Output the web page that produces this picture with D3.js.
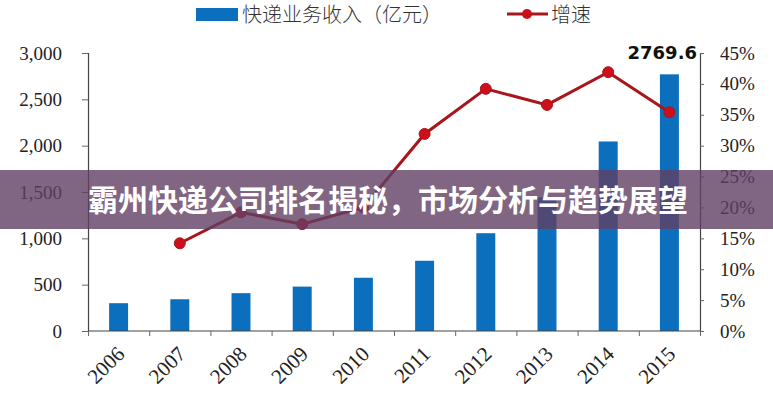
<!DOCTYPE html>
<html><head><meta charset="utf-8">
<script src="https://cdn.jsdelivr.net/npm/d3@7/dist/d3.min.js"></script>
<style>body{margin:0;background:#fff}svg{display:block}.serif{font-family:"Liberation Serif","Times New Roman","DejaVu Serif",serif}</style>
</head><body><svg id="c" width="773" height="400"></svg>
<script>
const years = ["2006","2007","2008","2009","2010","2011","2012","2013","2014","2015"];
const revenue = [300, 342.6, 408.4, 479, 574.6, 758, 1055.3, 1441.7, 2045.4, 2769.6];
const growth = [null, 14.2, 19.2, 17.3, 20.0, 31.9, 39.2, 36.6, 41.9, 35.4];
const leftTicks = [0, 500, 1000, 1500, 2000, 2500, 3000];
const rightTicks = [0, 5, 10, 15, 20, 25, 30, 35, 40, 45];
const legendLabels = ["快递业务收入（亿元）", "增速"];
const annotation = "2769.6";
const title = "霸州快递公司排名揭秘，市场分析与趋势展望";

const svg = d3.select("#c");
const L = 88, R = 700, T = 53, B = 331;
const x = d3.scaleBand().domain(years).range([L, R]).padding(0);
const yL = d3.scaleLinear().domain([0, 3000]).range([B, T]);
const yR = d3.scaleLinear().domain([0, 45]).range([B, T]);
const barColor = "#0c6fbe", lineColor = "#a8161c", markColor = "#cc0f1a";

// bars
const bw = x.bandwidth() * 0.31;
svg.append("g").selectAll("rect").data(revenue).join("rect")
  .attr("x", (d, i) => x(years[i]) + x.bandwidth() / 2 - bw / 2)
  .attr("y", d => yL(d)).attr("width", bw).attr("height", d => B - yL(d))
  .attr("fill", barColor);

// left axis
const gl = svg.append("g").attr("transform", `translate(${L},0)`)
  .call(d3.axisLeft(yL).tickValues(leftTicks).tickFormat(d3.format(",")).tickSize(6).tickPadding(20));
// right axis
const gr = svg.append("g").attr("transform", `translate(${R},0)`)
  .call(d3.axisRight(yR).tickValues(rightTicks).tickFormat(d => d + "%").tickSize(4).tickPadding(16));
// x axis
const bottomTicks = years.map(y => x(y)).concat([R]);
const xb = d3.scaleLinear().domain([L, R]).range([L, R]);
const gx = svg.append("g").attr("transform", `translate(0,${B})`)
  .call(d3.axisBottom(xb).tickValues(bottomTicks).tickFormat("").tickSize(5));
[gl, gr, gx].forEach(g => {
  g.attr("font-family", null);
  g.select(".domain").attr("stroke", "#444").attr("stroke-width", 1.2);
  g.selectAll(".tick line").attr("stroke", "#666");
  g.selectAll("text").attr("class", "serif").attr("font-size", 19).attr("fill", "#222");
});
gx.select(".domain").attr("d", `M${L},0H${R}`);

// x labels rotated
svg.append("g").selectAll("text").data(years).join("text")
  .attr("class", "serif")
  .attr("transform", d => `translate(${x(d) + x.bandwidth() / 2 + 2},${350}) rotate(-45)`)
  .attr("text-anchor", "end").attr("dy", "0.35em")
  .attr("font-size", 21).attr("fill", "#222")
  .text(d => d);

// growth line
const pts = growth.map((g, i) => ({ g, yr: years[i] })).filter(p => p.g !== null);
const line = d3.line().x(p => x(p.yr) + x.bandwidth() / 2).y(p => yR(p.g));
svg.append("path").datum(pts).attr("d", line).attr("fill", "none")
  .attr("stroke", lineColor).attr("stroke-width", 3);
svg.append("g").selectAll("circle").data(pts).join("circle")
  .attr("cx", p => x(p.yr) + x.bandwidth() / 2).attr("cy", p => yR(p.g)).attr("r", 5.5)
  .attr("fill", markColor).attr("stroke", lineColor).attr("stroke-width", 1);

// annotation
svg.append("text").attr("x", R - 3).attr("y", 59).attr("text-anchor", "end")
  .attr("font-family", "'DejaVu Sans', sans-serif").attr("font-weight", "bold")
  .attr("font-size", 18).attr("fill", "#111").text(annotation);

// legend
const lg = svg.append("g");
lg.append("rect").attr("x", 196).attr("y", 8).attr("width", 42).attr("height", 13).attr("fill", barColor);
lg.append("text").attr("x", 242).attr("y", 15).attr("dy", "0.35em")
  .attr("font-family", "'Noto Sans CJK SC', sans-serif").attr("font-size", 20).attr("font-weight", 300)
  .attr("fill", "#333").text(legendLabels[0]);
lg.append("line").attr("x1", 507).attr("x2", 548).attr("y1", 14).attr("y2", 14)
  .attr("stroke", lineColor).attr("stroke-width", 3);
lg.append("circle").attr("cx", 527).attr("cy", 14).attr("r", 5).attr("fill", markColor);
lg.append("text").attr("x", 551).attr("y", 15).attr("dy", "0.35em")
  .attr("font-family", "'Noto Sans CJK SC', sans-serif").attr("font-size", 20).attr("font-weight", 300)
  .attr("fill", "#333").text(legendLabels[1]);

// banner overlay
svg.append("rect").attr("x", 0).attr("y", 170).attr("width", 773).attr("height", 59)
  .attr("fill", "rgb(98,64,100)").attr("opacity", 0.8);
svg.append("text").attr("x", 88).attr("y", 200).attr("dy", "0.36em")
  .attr("font-family", "'Noto Sans CJK SC', sans-serif").attr("font-weight", "bold")
  .attr("font-size", 30).attr("fill", "#fff").text(title);
</script></body></html>
